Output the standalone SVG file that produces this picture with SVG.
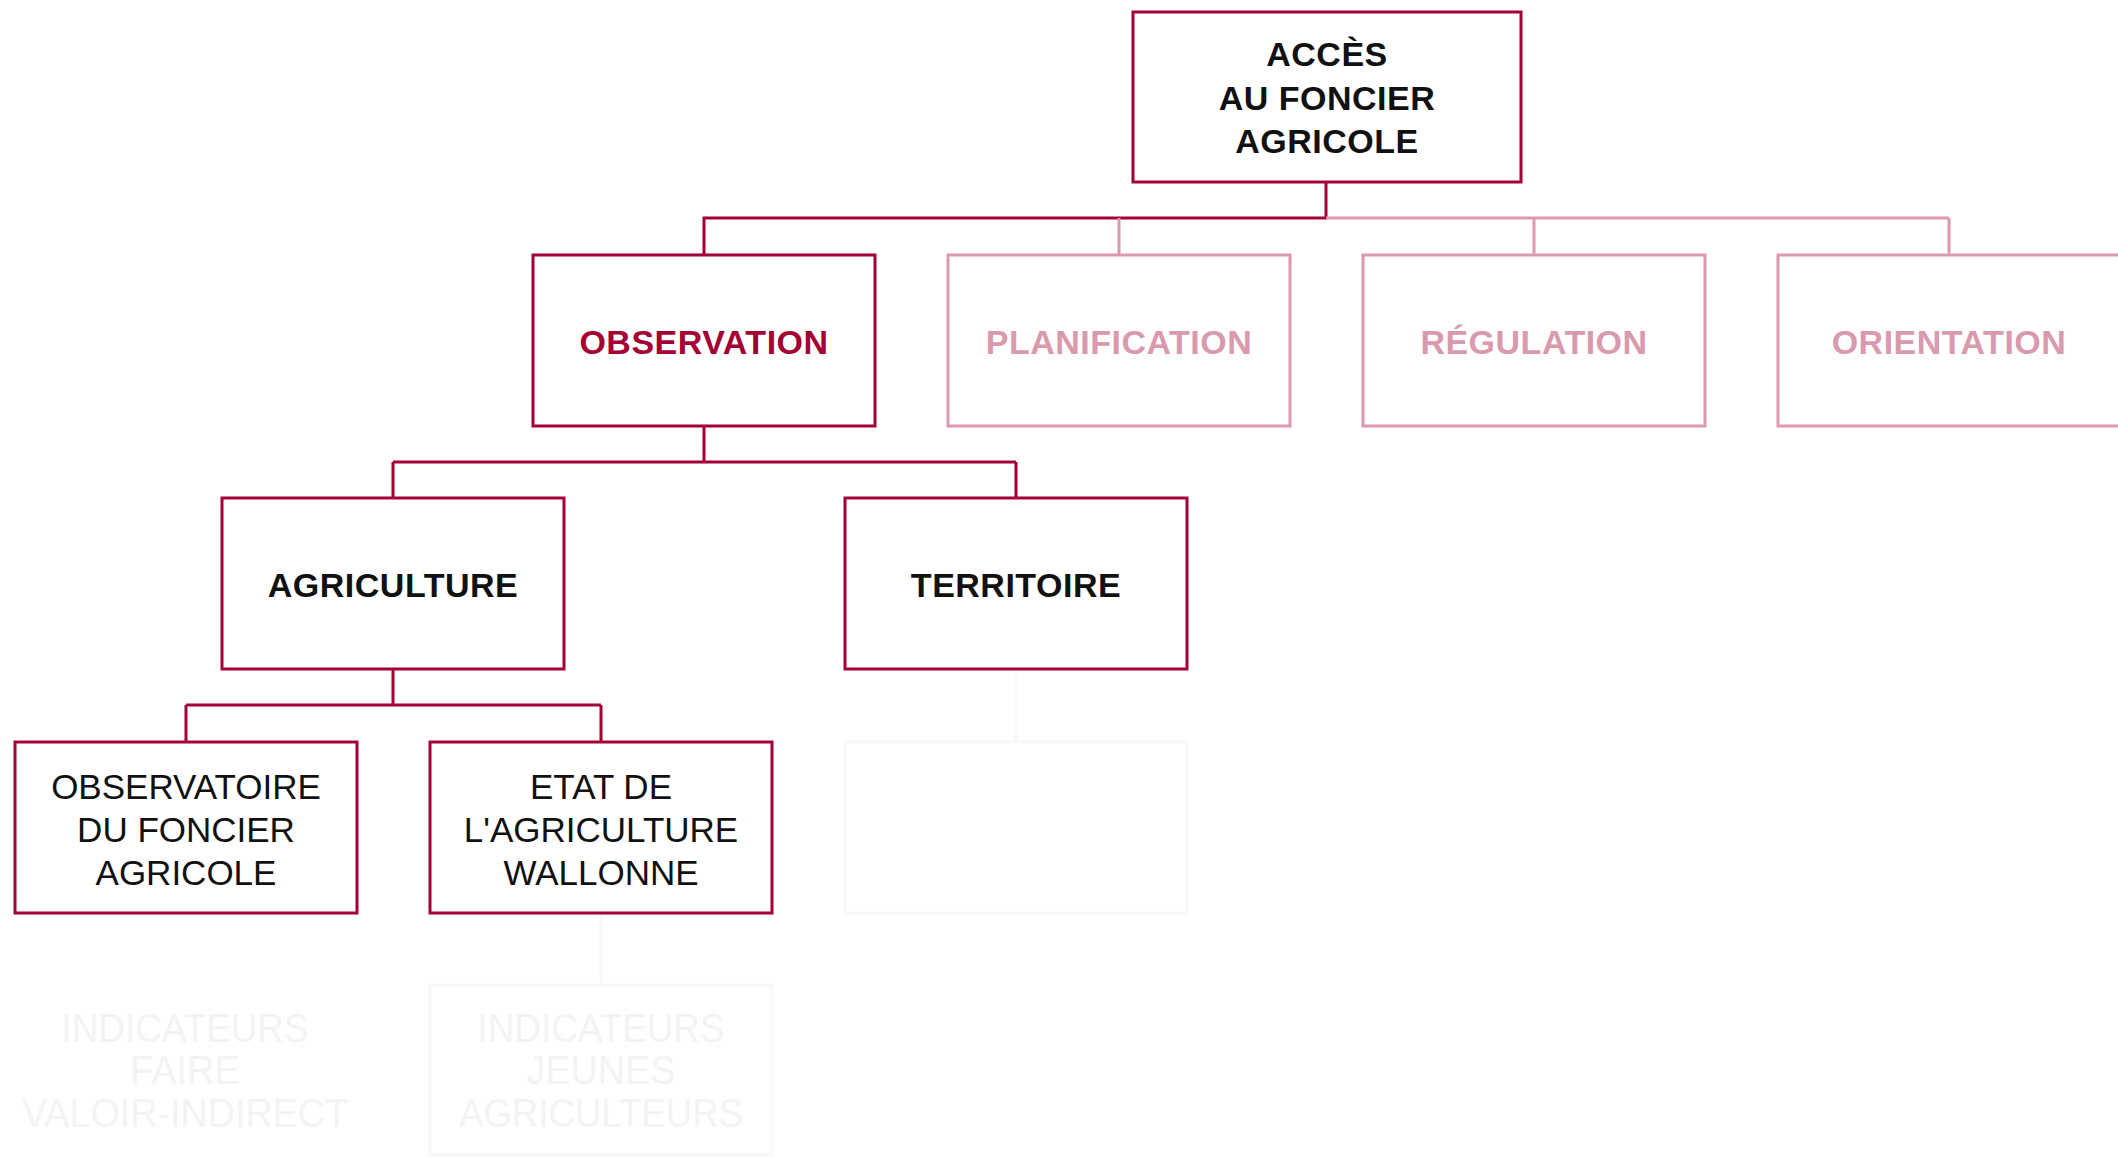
<svg xmlns="http://www.w3.org/2000/svg" width="2118" height="1157" viewBox="0 0 2118 1157">
  <style>
    .box { fill: #ffffff; stroke-width: 3; }
    .dark { stroke: #a50034; }
    .light { stroke: #db99ae; }
    .ghost { stroke: #f8f8f8; }
    .wire { fill: none; stroke-width: 3; }
    .lbl { font-family: "Liberation Sans", Arial, sans-serif; font-size: 34px; font-weight: 700; text-anchor: middle; letter-spacing: 0.5px; }
    .txt { font-family: "Liberation Sans", Arial, sans-serif; font-size: 35px; font-weight: 400; text-anchor: middle; fill: #111111; }
    .ink { fill: #111111; }
    .red { fill: #a50034; }
    .pink { fill: #d99aae; }
    .faint { font-family: "Liberation Sans", Arial, sans-serif; font-size: 40px; font-weight: 400; text-anchor: middle; fill: #f3f3f3; }
  </style>
  <rect width="2118" height="1157" fill="#ffffff"/>

  <g id="connectors">
    <!-- root to OBSERVATION -->
    <path class="wire dark" d="M1326,182 V218 H704 V255"/>
    <!-- root to the three inactive branches -->
    <path class="wire light" d="M1326,218 H1949 M1119,218 V255 M1534,218 V255 M1949,218 V255"/>
    <!-- OBSERVATION to its children -->
    <path class="wire dark" d="M704,426 V462 M393,462 H1016 M393,462 V498 M1016,462 V498"/>
    <!-- AGRICULTURE to its children -->
    <path class="wire dark" d="M393,669 V705 M186,705 H601 M186,705 V742 M601,705 V742"/>
    <!-- hidden branches -->
    <path class="wire ghost" d="M1016,669 V742 M601,913 V985"/>
  </g>

  <g id="node-acces">
    <rect class="box dark" x="1133" y="12" width="388" height="170"/>
    <text class="lbl ink" x="1327" y="66">ACCÈS</text>
    <text class="lbl ink" x="1327" y="109.5">AU FONCIER</text>
    <text class="lbl ink" x="1327" y="153">AGRICOLE</text>
  </g>

  <g id="node-observation">
    <rect class="box dark" x="533" y="255" width="342" height="171"/>
    <text class="lbl red" x="704" y="354">OBSERVATION</text>
  </g>
  <g id="node-planification">
    <rect class="box light" x="948" y="255" width="342" height="171"/>
    <text class="lbl pink" x="1119" y="354">PLANIFICATION</text>
  </g>
  <g id="node-regulation">
    <rect class="box light" x="1363" y="255" width="342" height="171"/>
    <text class="lbl pink" x="1534" y="354">RÉGULATION</text>
  </g>
  <g id="node-orientation">
    <rect class="box light" x="1778" y="255" width="342" height="171"/>
    <text class="lbl pink" x="1949" y="354">ORIENTATION</text>
  </g>

  <g id="node-agriculture">
    <rect class="box dark" x="222" y="498" width="342" height="171"/>
    <text class="lbl ink" x="393" y="597">AGRICULTURE</text>
  </g>
  <g id="node-territoire">
    <rect class="box dark" x="845" y="498" width="342" height="171"/>
    <text class="lbl ink" x="1016" y="597">TERRITOIRE</text>
  </g>

  <g id="node-observatoire">
    <rect class="box dark" x="15" y="742" width="342" height="171"/>
    <text class="txt" x="186" y="799">OBSERVATOIRE</text>
    <text class="txt" x="186" y="842">DU FONCIER</text>
    <text class="txt" x="186" y="885">AGRICOLE</text>
  </g>
  <g id="node-etat">
    <rect class="box dark" x="430" y="742" width="342" height="171"/>
    <text class="txt" x="601" y="799">ETAT DE</text>
    <text class="txt" x="601" y="842">L'AGRICULTURE</text>
    <text class="txt" x="601" y="885">WALLONNE</text>
  </g>

  <g id="node-territoire-child">
    <rect class="box ghost" x="845" y="742" width="342" height="171"/>
  </g>

  <g id="node-faire-valoir">
    <text class="faint" x="185" y="1042" textLength="247" lengthAdjust="spacingAndGlyphs">INDICATEURS</text>
    <text class="faint" x="185" y="1084" textLength="110" lengthAdjust="spacingAndGlyphs">FAIRE</text>
    <text class="faint" x="185" y="1127" textLength="326" lengthAdjust="spacingAndGlyphs">VALOIR-INDIRECT</text>
  </g>
  <g id="node-jeunes">
    <rect class="box ghost" x="430" y="985" width="342" height="170"/>
    <text class="faint" x="601" y="1042" textLength="247" lengthAdjust="spacingAndGlyphs">INDICATEURS</text>
    <text class="faint" x="601" y="1084" textLength="149" lengthAdjust="spacingAndGlyphs">JEUNES</text>
    <text class="faint" x="601" y="1127" textLength="284" lengthAdjust="spacingAndGlyphs">AGRICULTEURS</text>
  </g>
</svg>
